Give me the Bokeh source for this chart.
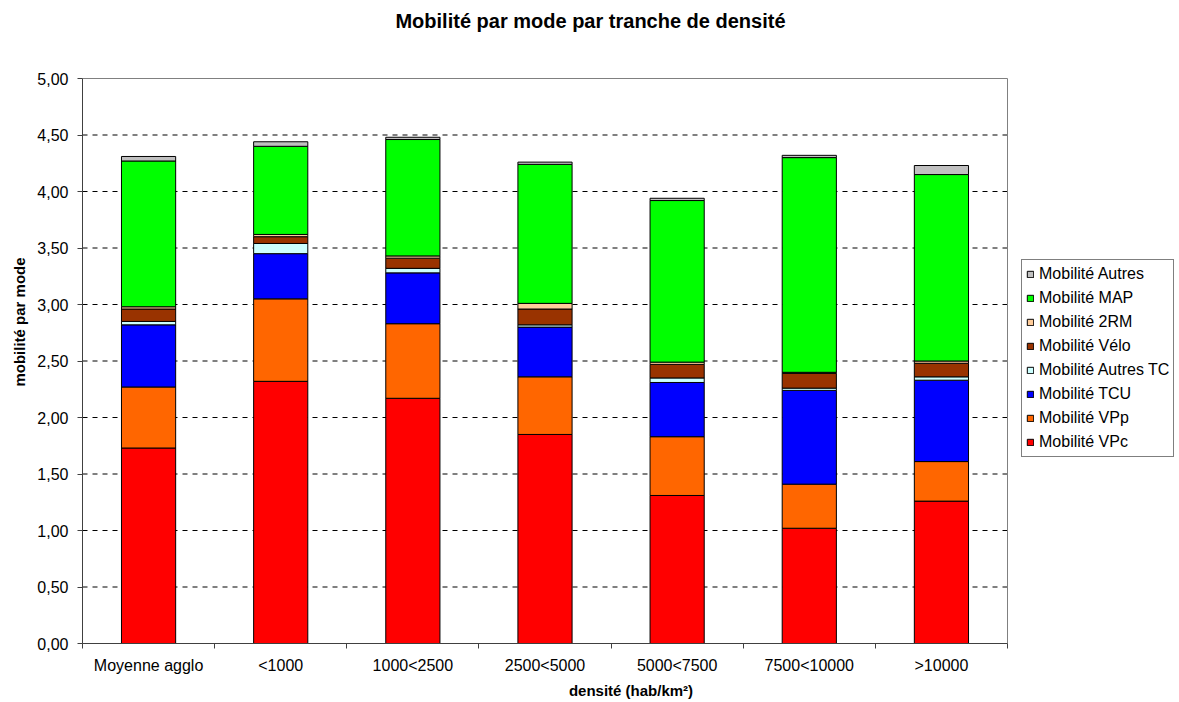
from bokeh.plotting import figure
from bokeh.models import (Range1d, FixedTicker, CustomJSTickFormatter, Legend,
                          LegendItem, ColumnDataSource, Label)
from bokeh.embed import file_html
from bokeh.resources import INLINE

categories = ["Moyenne agglo", "<1000", "1000<2500", "2500<5000",
              "5000<7500", "7500<10000", ">10000"]
vpc = [1.73, 2.32, 2.17, 1.85, 1.31, 1.02, 1.26]
vpp = [0.54, 0.73, 0.66, 0.51, 0.52, 0.39, 0.35]
tcu = [0.55, 0.40, 0.45, 0.44, 0.48, 0.83, 0.72]
autres_tc = [0.03, 0.09, 0.04, 0.02, 0.04, 0.02, 0.03]
velo = [0.11, 0.06, 0.09, 0.14, 0.12, 0.13, 0.12]
deux_rm = [0.02, 0.02, 0.02, 0.05, 0.02, 0.01, 0.02]
map_ = [1.29, 0.78, 1.03, 1.23, 1.43, 1.90, 1.65]
autres = [0.04, 0.04, 0.02, 0.02, 0.02, 0.02, 0.08]
y_ticks = [0.0, 0.5, 1.0, 1.5, 2.0, 2.5, 3.0, 3.5, 4.0, 4.5, 5.0]

series_names = ["Mobilité VPc", "Mobilité VPp", "Mobilité TCU", "Mobilité Autres TC",
                "Mobilité Vélo", "Mobilité 2RM", "Mobilité MAP", "Mobilité Autres"]
series_keys = ["vpc", "vpp", "tcu", "autres_tc", "velo", "deux_rm", "map", "autres"]
colors = ["#FF0000", "#FF6600", "#0000FF", "#CCFFFF", "#993300", "#FFCC99", "#00FF00", "#C0C0C0"]

TITLE = "Mobilité par mode par tranche de densité"
FONT = "Liberation Sans"
N = len(categories)
Y_MAX = y_ticks[-1]

# layout geometry (pixels): plot area spans x 82..1007, y 78..643;
# the frame extends to the right and top edges so the legend and title fit in it
W, H = 1179, 702
LEFT, PLOT_RIGHT = 82, 1007
PLOT_TOP, PLOT_BOTTOM = 78, 643
TITLE_CX, TITLE_CY = 590, 20
px_x = (PLOT_RIGHT - LEFT) / N
px_y = (PLOT_BOTTOM - PLOT_TOP) / Y_MAX
x_view_end = (W - LEFT) / px_x
y_view_end = PLOT_BOTTOM / px_y
title_x = (TITLE_CX - LEFT) / px_x
title_y = (PLOT_BOTTOM - TITLE_CY) / px_y

source = ColumnDataSource(dict(
    x=[i + 0.5 for i in range(N)],
    vpc=vpc, vpp=vpp, tcu=tcu, autres_tc=autres_tc, velo=velo,
    deux_rm=deux_rm, map=map_, autres=autres))

p = figure(width=W, height=H, output_backend="svg", toolbar_location=None,
           x_range=Range1d(0, x_view_end), y_range=Range1d(0, y_view_end),
           min_border_left=LEFT, min_border_right=0, min_border_top=0,
           min_border_bottom=H - PLOT_BOTTOM, title=None)

# chart title
p.add_layout(Label(x=title_x, y=title_y, text=TITLE, text_align="center",
                   text_baseline="middle", text_font=FONT, text_font_size="20px",
                   text_font_style="bold", text_color="black"))

# dashed horizontal gridlines limited to the plot area
grid_y = y_ticks[1:-1]
p.segment(x0=[0] * len(grid_y), x1=[N] * len(grid_y), y0=grid_y, y1=grid_y,
          line_color="black", line_dash="5 5", line_width=1, level="underlay")

# plot-area border
p.quad(left=[0], right=[N], bottom=[0], top=[Y_MAX], fill_color=None,
       line_color="#808080", line_width=1, level="underlay")

renderers = p.vbar_stack(series_keys, x="x", width=0.41, color=colors,
                         line_color="black", line_width=1, source=source)

items = [LegendItem(label=n, renderers=[r]) for n, r in zip(series_names, renderers)]
items.reverse()
legend = Legend(items=items, location=(939, 186))
legend.label_text_font = FONT
legend.label_text_font_size = "16px"
legend.label_text_color = "black"
legend.glyph_width = 8
legend.glyph_height = 8
legend.label_height = 20
legend.spacing = 4
legend.padding = 4
legend.margin = 0
legend.label_standoff = 5
legend.border_line_color = "black"
legend.border_line_width = 1
legend.background_fill_color = "white"
legend.background_fill_alpha = 1
p.add_layout(legend)

# y axis
p.yaxis.bounds = (0, Y_MAX)
p.yaxis.ticker = FixedTicker(ticks=y_ticks)
p.yaxis.formatter = CustomJSTickFormatter(code="return tick.toFixed(2).replace('.', ',');")
p.yaxis.axis_label = "mobilité par mode"
p.yaxis.axis_label_text_font = FONT
p.yaxis.axis_label_text_font_size = "15px"
p.yaxis.axis_label_text_font_style = "bold"
p.yaxis.axis_label_text_color = "black"
p.yaxis.axis_label_standoff = 6
p.yaxis.major_label_text_font = FONT
p.yaxis.major_label_text_font_size = "16px"
p.yaxis.major_label_text_color = "black"
p.yaxis.major_label_standoff = 9
p.yaxis.major_tick_out = 5
p.yaxis.major_tick_in = 0
p.yaxis.minor_tick_out = 0
p.yaxis.minor_tick_in = 0
p.yaxis.axis_line_color = "#404040"
p.yaxis.major_tick_line_color = "#404040"

# x axis (ticks between categories, labels centred)
xaxis = p.below[0]
xaxis.bounds = (0, N)
xaxis.ticker = FixedTicker(ticks=[i + 0.5 for i in range(N)],
                           minor_ticks=list(range(N + 1)))
xaxis.formatter = CustomJSTickFormatter(args=dict(labels=categories),
                                        code="return labels[Math.round(tick - 0.5)];")
xaxis.axis_label = "densité (hab/km²)"
xaxis.axis_label_text_font = FONT
xaxis.axis_label_text_font_size = "15px"
xaxis.axis_label_text_font_style = "bold"
xaxis.axis_label_text_color = "black"
xaxis.axis_label_standoff = 5
xaxis.major_label_text_font = FONT
xaxis.major_label_text_font_size = "16px"
xaxis.major_label_text_color = "black"
xaxis.major_label_standoff = 8
xaxis.major_tick_out = 0
xaxis.major_tick_in = 0
xaxis.minor_tick_out = 5
xaxis.minor_tick_in = 0
xaxis.axis_line_color = "#404040"
xaxis.minor_tick_line_color = "#404040"

p.xgrid.grid_line_color = None
p.ygrid.grid_line_color = None

p.outline_line_color = None
p.background_fill_color = "white"
p.border_fill_color = "white"

open("out.html", "w").write(file_html(p, INLINE))
